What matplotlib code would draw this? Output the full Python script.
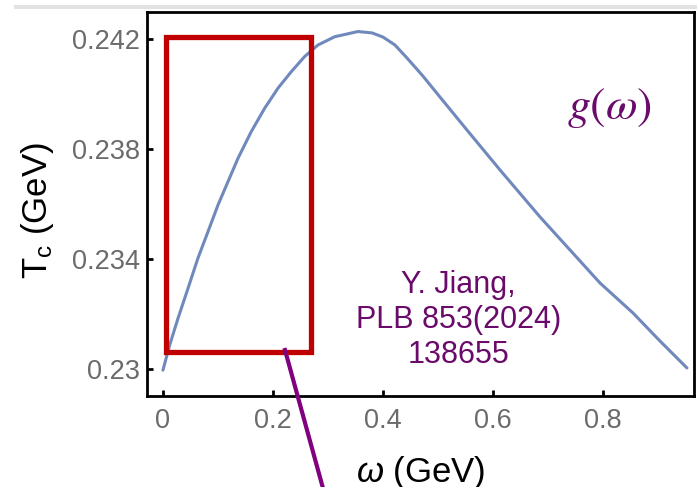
import matplotlib
matplotlib.use('Agg')
import matplotlib.pyplot as plt
from matplotlib.patches import Rectangle
from matplotlib.lines import Line2D

# T_c(omega)
omega = [0.000, 0.0122, 0.0273, 0.0455, 0.0636, 0.0818, 0.100, 0.1182, 0.1364,
         0.1605, 0.1849, 0.2091, 0.2333, 0.2576, 0.2818, 0.3122, 0.3545, 0.380,
         0.400, 0.4218, 0.4436, 0.4727, 0.5036, 0.5527, 0.6127, 0.6855, 0.740,
         0.7945, 0.8545, 0.9036, 0.9527]
tc = [0.22996, 0.23087, 0.23184, 0.23293, 0.23403, 0.23499, 0.23596, 0.23681,
      0.23766, 0.23863, 0.23948, 0.24021, 0.24081, 0.24136, 0.24178, 0.24208,
      0.24227, 0.24222, 0.24207, 0.24178, 0.24131, 0.24065, 0.23989, 0.23869,
      0.23724, 0.23553, 0.23433, 0.23313, 0.23204, 0.23102, 0.23004]

xticks = [0, 0.2, 0.4, 0.6, 0.8]
xticklabels = ['0', '0.2', '0.4', '0.6', '0.8']
yticks = [0.230, 0.234, 0.238, 0.242]
yticklabels = ['0.23', '0.234', '0.238', '0.242']

# highlighted window (omega range, Tc range)
box_x = [0.0055, 0.269]
box_y = [0.23062, 0.24207]

plt.rcParams['font.family'] = ['Liberation Sans', 'DejaVu Sans']
plt.rcParams['mathtext.fontset'] = 'custom'
plt.rcParams['mathtext.rm'] = 'Liberation Sans'
plt.rcParams['mathtext.it'] = 'Liberation Sans:italic'

W, H = 697, 487
fig = plt.figure(figsize=(W / 100, H / 100), dpi=100)
ax = fig.add_axes([147 / W, 1 - 396 / H, (694 - 147) / W, (396 - 12) / H])

ax.plot(omega, tc, color='#7089BD', lw=2.2, solid_capstyle='round')

ax.add_patch(Rectangle((box_x[0], box_y[0]), box_x[1] - box_x[0], box_y[1] - box_y[0],
                       fill=False, edgecolor='#C00000', lw=3.8, joinstyle='miter', zorder=4))

ax.set_xlim(-0.029, 0.9655)
ax.set_ylim(0.22902, 0.24298)
ax.set_xticks(xticks)
ax.set_xticklabels(xticklabels)
ax.set_yticks(yticks)
ax.set_yticklabels(yticklabels)
ax.tick_params(direction='in', length=4, width=2, labelsize=19.5, labelcolor='#6b6b6b')
ax.tick_params(axis='x', pad=9)
ax.tick_params(axis='y', pad=5)
for s in ax.spines.values():
    s.set_linewidth(2)

ax.set_xlabel(r'$\omega$ (GeV)', fontsize=25)
ax.set_ylabel(r'T$_\mathregular{c}$ (GeV)', fontsize=25)
ax.xaxis.set_label_coords(0.5, -0.20)
ax.xaxis.label.set_va('center')
ax.yaxis.set_label_coords(-0.201, 0.484)
ax.yaxis.label.set_va('center')

purple = '#6A0A6A'
ax.text(0.846, 0.75, r'$g(\omega)$', transform=ax.transAxes, fontsize=33,
        color=purple, ha='center', va='center', math_fontfamily='stix')
ax.text(0.569, 0.198, 'Y. Jiang,\nPLB 853(2024)\n138655', transform=ax.transAxes,
        fontsize=22, color=purple, ha='center', va='center', linespacing=1.2)

# pointer line leaving the box downwards
fig.add_artist(Line2D([285 / W, 324 / W], [1 - 350 / H, -0.01], color='#800080',
                      lw=3, zorder=5))
# thin grey strip along the top edge
fig.add_artist(Rectangle((14 / W, 1 - 9 / H), 1, 4 / H, color='#e2e2e2', lw=0))

fig.savefig('out.png', dpi=100)
